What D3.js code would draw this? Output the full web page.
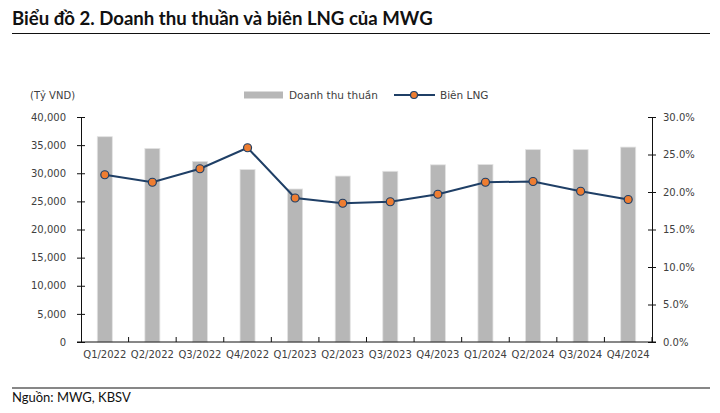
<!DOCTYPE html>
<html>
<head>
<meta charset="utf-8">
<script src="https://cdn.jsdelivr.net/npm/d3@7"></script>
<style>
  body { margin: 0; background: #fff; }
  svg text { font-family: "DejaVu Sans", sans-serif; }
</style>
</head>
<body>
<svg id="chart" width="720" height="413"></svg>
<script>
"use strict"

// data
let quarters = ["Q1/2022", "Q2/2022", "Q3/2022", "Q4/2022", "Q1/2023", "Q2/2023",
    "Q3/2023", "Q4/2023", "Q1/2024", "Q2/2024", "Q3/2024", "Q4/2024"];
let revenue = [36500, 34400, 32100, 30650, 27200, 29500, 30350, 31500, 31550, 34200, 34200, 34650];
let margin = [22.3, 21.3, 23.1, 25.9, 19.2, 18.5, 18.7, 19.7, 21.3, 21.4, 20.1, 19.0];
let leftTicks = [0, 5000, 10000, 15000, 20000, 25000, 30000, 35000, 40000];
let rightTicks = [0, 5, 10, 15, 20, 25, 30];

let svg = d3.select("#chart");
let plotLeft = 81, plotRight = 652, plotTop = 117, plotBottom = 342;
let textColor = "#404040";
let labelFont = "Lato, 'Noto Sans', sans-serif";

// title + rules
svg.append("text")
    .attr("x", 12).attr("y", 25)
    .attr("font-weight", "bold")
    .attr("font-size", 18.6)
    .attr("fill", "#111")
    .style("font-family", labelFont)
    .text("Biểu đồ 2. Doanh thu thuần và biên LNG của MWG");

svg.append("line")
    .attr("x1", 12).attr("x2", 710).attr("y1", 33.5).attr("y2", 33.5)
    .attr("stroke", "#111").attr("stroke-width", 1.2);

svg.append("line")
    .attr("x1", 12).attr("x2", 710).attr("y1", 388).attr("y2", 388)
    .attr("stroke", "#111").attr("stroke-width", 1.2);

svg.append("text")
    .attr("x", 12).attr("y", 402)
    .attr("font-size", 13)
    .attr("fill", "#111")
    .style("font-family", labelFont)
    .text("Nguồn: MWG, KBSV");

// scales
let x = d3.scaleBand().domain(quarters).range([plotLeft, plotRight]);
let yL = d3.scaleLinear().domain([0, 40000]).range([plotBottom, plotTop]);
let yR = d3.scaleLinear().domain([0, 30]).range([plotBottom, plotTop]);

// bars
let barW = 15;
svg.append("g").selectAll("rect")
    .data(revenue)
    .enter().append("rect")
    .attr("x", function (d, i) { return x(quarters[i]) + x.bandwidth() / 2 - barW / 2; })
    .attr("y", function (d) { return yL(d); })
    .attr("width", barW)
    .attr("height", function (d) { return plotBottom - yL(d); })
    .attr("fill", "#b7b7b7")
    .attr("stroke", "#e2e2e2")
    .attr("stroke-width", 0.8);

// axes
let axL = svg.append("g")
    .attr("transform", "translate(" + plotLeft + ",0)")
    .call(d3.axisLeft(yL).tickValues(leftTicks).tickSize(4).tickFormat(d3.format(",")));
axL.selectAll(".tick line").attr("x2", 4).attr("x1", -4);
axL.selectAll(".tick text").attr("x", -15);

let axR = svg.append("g")
    .attr("transform", "translate(" + plotRight + ",0)")
    .call(d3.axisRight(yR).tickValues(rightTicks).tickSize(4).tickFormat(function (d) { return d.toFixed(1) + "%"; }));
axR.selectAll(".tick line").attr("x1", -4).attr("x2", 4);
axR.selectAll(".tick text").attr("x", 11);

let axB = svg.append("g")
    .attr("transform", "translate(0," + plotBottom + ")")
    .call(d3.axisBottom(x).tickSize(0).tickPadding(9));

[axL, axR, axB].forEach(function (a) {
    a.select(".domain").attr("stroke", "#111");
    a.selectAll(".tick line").attr("stroke", "#111");
    a.selectAll(".tick text")
        .attr("fill", textColor)
        .attr("font-size", 10)
        .style("font-family", "'DejaVu Sans', sans-serif");
});
axB.select(".domain").attr("d", "M" + (plotLeft - 4) + ",0H" + (plotRight + 4));

// boundary ticks pointing up
svg.append("g").selectAll("line")
    .data(quarters)
    .enter().append("line")
    .attr("x1", function (d) { return x(d) + x.step(); })
    .attr("x2", function (d) { return x(d) + x.step(); })
    .attr("y1", plotBottom).attr("y2", plotBottom - 5)
    .attr("stroke", "#111");

// margin line
let line = d3.line()
    .x(function (d, i) { return x(quarters[i]) + x.bandwidth() / 2; })
    .y(function (d) { return yR(d); });

svg.append("path")
    .datum(margin)
    .attr("d", line)
    .attr("fill", "none")
    .attr("stroke", "#1f3f66")
    .attr("stroke-width", 2);

svg.append("g").selectAll("circle")
    .data(margin)
    .enter().append("circle")
    .attr("cx", function (d, i) { return x(quarters[i]) + x.bandwidth() / 2; })
    .attr("cy", function (d) { return yR(d); })
    .attr("r", 4)
    .attr("fill", "#ee7d31")
    .attr("stroke", "#1f3f66")
    .attr("stroke-width", 1.2);

// unit label
svg.append("text")
    .attr("x", 30).attr("y", 99)
    .attr("font-size", 10)
    .attr("fill", textColor)
    .style("font-family", "'DejaVu Sans', sans-serif")
    .text("(Tỷ VND)");

// legend
let leg = svg.append("g");
leg.append("rect")
    .attr("x", 244).attr("y", 91.5).attr("width", 39).attr("height", 7)
    .attr("fill", "#b7b7b7");
leg.append("text")
    .attr("x", 289).attr("y", 99)
    .attr("font-size", 10.5).attr("fill", textColor)
    .style("font-family", "'DejaVu Sans', sans-serif")
    .text("Doanh thu thuần");
leg.append("line")
    .attr("x1", 394).attr("x2", 435).attr("y1", 95).attr("y2", 95)
    .attr("stroke", "#1f3f66").attr("stroke-width", 2);
leg.append("circle")
    .attr("cx", 414).attr("cy", 95).attr("r", 3.5)
    .attr("fill", "#ee7d31").attr("stroke", "#1f3f66").attr("stroke-width", 1.2);
leg.append("text")
    .attr("x", 440).attr("y", 99)
    .attr("font-size", 10.5).attr("fill", textColor)
    .style("font-family", "'DejaVu Sans', sans-serif")
    .text("Biên LNG");
</script>
</body>
</html>
